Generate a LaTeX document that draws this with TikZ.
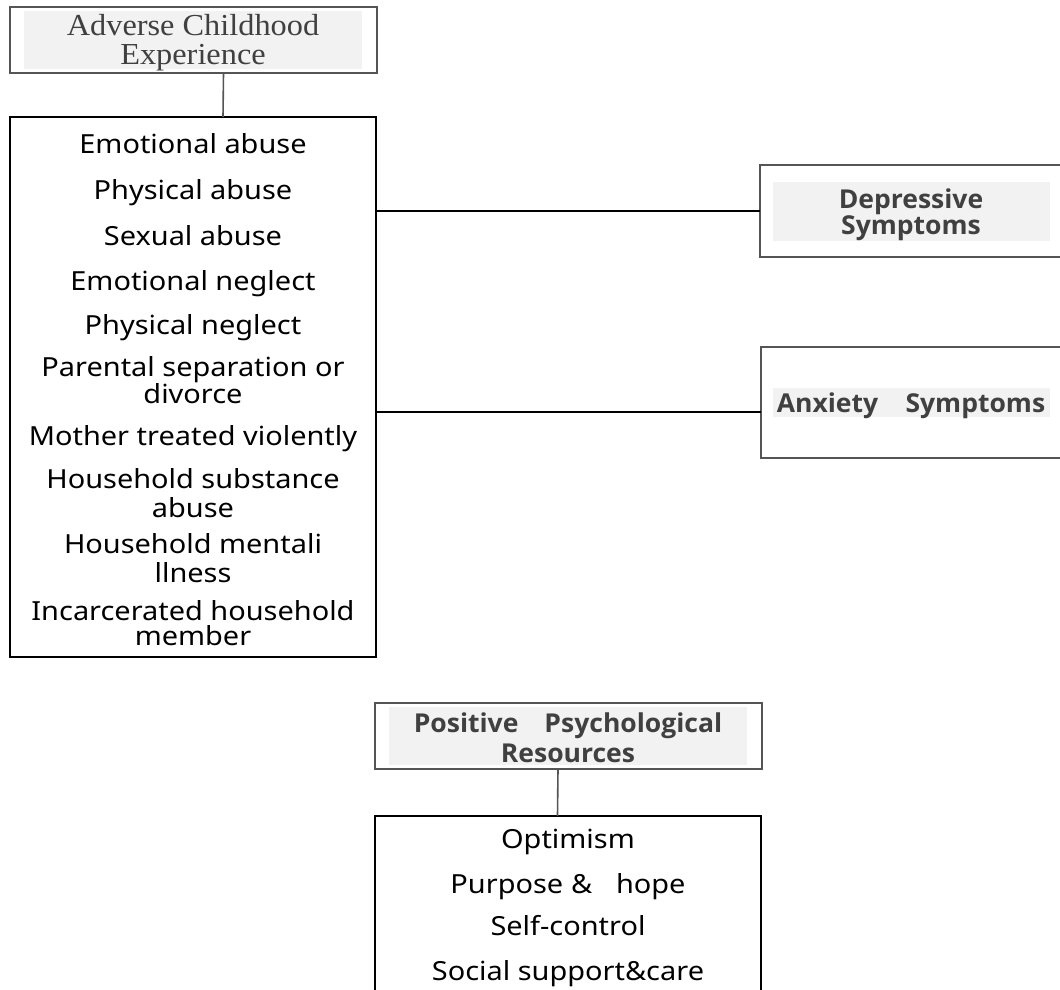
\documentclass[tikz,border=0pt]{standalone}
\usepackage{fontspec}
\setmainfont{Noto Sans}[FakeStretch=1.1]
\newfontfamily\headfont{Open Sans}[FakeStretch=1.02]
\newfontfamily\serifT{Liberation Serif}[FakeStretch=1.06]
\definecolor{ttext}{HTML}{404040}
\definecolor{bord}{HTML}{555555}
\definecolor{greyfill}{HTML}{F2F2F2}
\begin{document}
\begin{tikzpicture}[x=1pt,y=-1pt,
  box/.style={draw, rectangle, inner sep=0pt, outer sep=0pt},
  titlebox/.style={box, draw=bord, line width=1.6pt},
  listbox/.style={box, draw=black, line width=2pt},
  link/.style={draw=black, line width=2pt},
  stem/.style={draw=bord, line width=1.6pt},
  tl/.style={anchor=base, inner sep=0pt, font=\fontsize{26.3}{26.3}\selectfont},
  hd/.style={anchor=base, inner sep=0pt, text=ttext, font=\headfont\fontsize{26}{26}\selectfont\bfseries},
  sr/.style={anchor=base, inner sep=0pt, text=ttext, font=\serifT\fontsize{30.5}{30.5}\selectfont},
]
\useasboundingbox (0,0) rectangle (1060,989);
\clip (0,0) rectangle (1060,989);
\fill[white] (0,0) rectangle (1060,989);

% ---- Adverse Childhood Experience title
\node[titlebox, minimum width=367pt, minimum height=66pt] (acet) at (193.5,40) {};
\fill[greyfill] (24,11) rectangle (362,69);
\node[sr] (acet1) at (193,35) {Adverse Childhood};
\node[sr] (acet2) at (193,64) {Experience};

% ---- ACE list
\node[listbox, minimum width=366pt, minimum height=540pt] (acel) at (193,387) {};
\node[tl] (a1) at (193,153) {Emotional abuse};
\node[tl] (a2) at (193,199) {Physical abuse};
\node[tl] (a3) at (193,245) {Sexual abuse};
\node[tl] (a4) at (193,290) {Emotional neglect};
\node[tl] (a5) at (193,334) {Physical neglect};
\node[tl] (a6) at (193,376) {Parental separation or};
\node[tl] (a6b) at (193,403) {divorce};
\node[tl] (a7) at (193,445) {Mother treated violently};
\node[tl] (a8) at (193,488) {Household substance};
\node[tl] (a8b) at (193,517) {abuse};
\node[tl] (a9) at (193,553) {Household mentali};
\node[tl] (a9b) at (193,582) {llness};
\node[tl] (a10) at (193,620) {Incarcerated household};
\node[tl] (a10b) at (193,645) {member};

\draw[stem] ([xshift=30pt]acet.south) -- ([xshift=30pt]acel.north);

% ---- Depressive Symptoms
\node[titlebox, line width=2pt, minimum width=315pt, minimum height=92pt] (dep) at (917.5,211) {};
\fill[greyfill] (773,182) rectangle (1050,241);
\node[hd] (dep1) at (911,208) {Depressive};
\node[hd] (dep2) at (911,234) {Symptoms};

% ---- Anxiety Symptoms
\node[titlebox, line width=2pt, minimum width=314pt, minimum height=111pt] (anx) at (918,402.5) {};
\fill[greyfill] (773,388) rectangle (1050,417);
\node[hd] (anx1) at (911,412) {Anxiety\hspace*{1.05em}Symptoms};

\draw[link] (dep.west -| acel.east) -- (dep.west);
\draw[link] ([yshift=-9.5pt]anx.west -| acel.east) -- ([yshift=-9.5pt]anx.west);

% ---- Positive Psychological Resources
\node[titlebox, minimum width=387pt, minimum height=66pt] (ppt) at (568.5,736) {};
\fill[greyfill] (389,707) rectangle (747,765);
\node[hd] (ppt1) at (568,732) {Positive\hspace*{1.0em}Psychological};
\node[hd] (ppt2) at (568,762) {Resources};

\node[listbox, minimum width=386pt, minimum height=194pt] (ppl) at (568,913) {};
\node[tl] (p1) at (568,848) {Optimism};
\node[tl] (p2) at (568,893) {Purpose\hspace*{0.3em}\&\hspace*{0.9em}hope};
\node[tl] (p3) at (568,935) {Self-control};
\node[tl] (p4) at (568,980) {Social support\&care};

\draw[stem] ([xshift=-10.5pt]ppt.south) -- ([xshift=-10.5pt]ppl.north);
\end{tikzpicture}
\end{document}
